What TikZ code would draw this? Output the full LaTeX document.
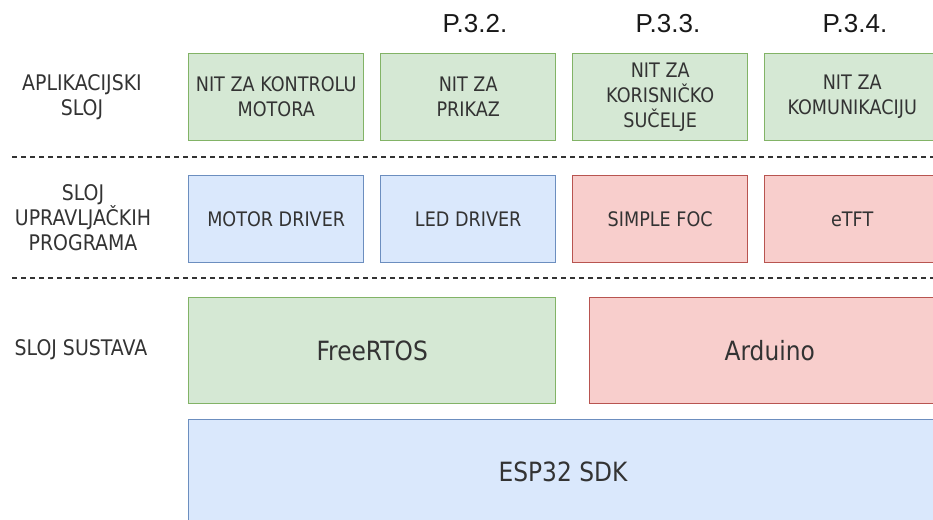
\documentclass[tikz,border=0pt]{standalone}
\usepackage{fontspec}
\setmainfont{DejaVu Sans}[FakeStretch=0.88]
\newfontfamily\headfont{Liberation Sans}
\usepackage{tikz}
\usetikzlibrary{calc}
\definecolor{greenfill}{HTML}{D5E8D4}
\definecolor{greenline}{HTML}{82B366}
\definecolor{bluefill}{HTML}{DAE8FC}
\definecolor{blueline}{HTML}{6C8EBF}
\definecolor{redfill}{HTML}{F8CECC}
\definecolor{redline}{HTML}{B85450}
\definecolor{txt}{HTML}{333333}
\tikzstyle{layer} = [rectangle, line width=1.4pt, minimum height=87pt, minimum width=175pt, inner sep=0pt, text=txt, align=center, anchor=north west, font=\fontsize{20}{25}\selectfont]
\tikzstyle{base} = [layer, minimum height=106pt, font=\fontsize{26.5}{30}\selectfont]
\tikzstyle{appbox} = [draw=greenline, fill=greenfill]
\tikzstyle{drvbox} = [draw=blueline, fill=bluefill]
\tikzstyle{libbox} = [draw=redline, fill=redfill]
\tikzstyle{lbl} = [text=txt, align=center, font=\fontsize{21.5}{25}\selectfont]
\tikzstyle{head} = [anchor=base, text=black!90, font=\headfont\fontsize{26}{28}\selectfont]
\tikzstyle{sep} = [line width=1.3pt, txt, dash pattern=on 5pt off 4pt]

\begin{document}
\begin{tikzpicture}[x=1pt, y=-1pt]
            \clip (0,0) rectangle (933,519);
            \fill[white] (0,0) rectangle (933,519);

            % aplikacijski sloj
            \node (NitMotor) [layer, appbox] at (188,53) {NIT ZA KONTROLU\\MOTORA};
            \node (NitPrikaz) [layer, appbox] at (380,53) {NIT ZA\\PRIKAZ};
            \node (NitSucelje) [layer, appbox] at (572,53) {NIT ZA\\KORISNIČKO\\SUČELJE};
            \node (NitKom) [layer, appbox] at (764,53) {NIT ZA\\KOMUNIKACIJU};

            \node (P32) [head] at (475,33) {P.3.2.};
            \node (P33) [head] at (668,33) {P.3.3.};
            \node (P34) [head] at (855,33) {P.3.4.};

            % sloj upravljackih programa
            \node (MotorDrv) [layer, drvbox] at (188,175) {MOTOR DRIVER};
            \node (LedDrv) [layer, drvbox] at (380,175) {LED DRIVER};
            \node (SimpleFoc) [layer, libbox] at (572,175) {SIMPLE FOC};
            \node (eTFT) [layer, libbox] at (764,175) {eTFT};

            % sloj sustava
            \node (FreeRTOS) [base, appbox, minimum width=367pt] at (188,297) {FreeRTOS};
            \node (Arduino) [base, libbox, minimum width=360pt] at (589,297) {Arduino};
            \node (ESP) [base, drvbox, minimum width=760pt, minimum height=115pt] at (188,419) {};
            \node (ESPtxt) at ($(ESP.west)+(375,-5)$) [font=\fontsize{26.5}{30}\selectfont, text=txt] {ESP32 SDK};

            % oznake slojeva
            \node (Lapp) [lbl] at (82,97) {APLIKACIJSKI\\SLOJ};
            \node (Ldrv) [lbl] at (83,218) {SLOJ\\UPRAVLJAČKIH\\PROGRAMA};
            \node (Lsys) [lbl] at (81,350) {SLOJ SUSTAVA};

            \coordinate (S1a) at (12,157);
            \coordinate (S1b) at (940,157);
            \coordinate (S2a) at (12,278);
            \coordinate (S2b) at (940,278);
            \draw [sep] (S1a) -- (S1b);
            \draw [sep] (S2a) -- (S2b);
        \end{tikzpicture}
\end{document}
